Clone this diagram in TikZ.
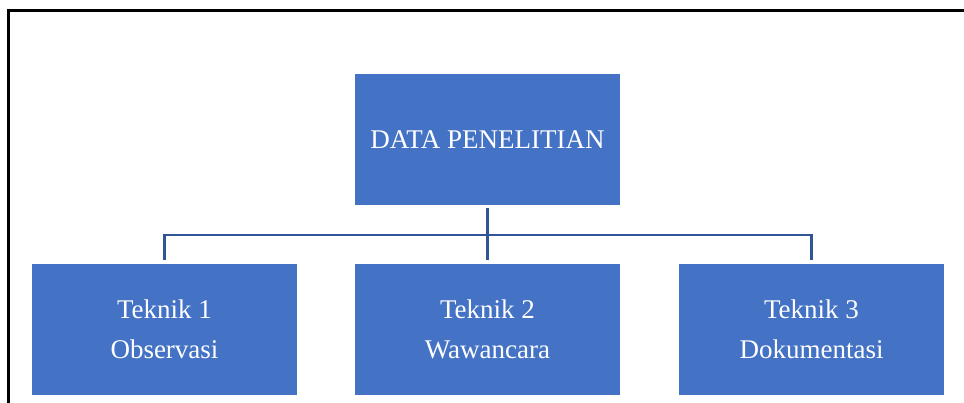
\documentclass[tikz,border=0pt]{standalone}
\usepackage{fontspec}
\setmainfont{Liberation Serif}
\definecolor{boxblue}{HTML}{4472C4}
\definecolor{lineblue}{HTML}{2F5597}
\begin{document}
\begin{tikzpicture}[x=1pt,y=-1pt,
  blk/.style={fill=boxblue, draw=none, minimum width=265pt, minimum height=131pt,
    text=white, align=center, font=\fontsize{27}{40}\selectfont, inner sep=0pt},
  conn/.style={draw=lineblue, line width=2.4pt}]
\useasboundingbox (0,0) rectangle (964,403);
\draw[line width=2.5pt] (8.5,403) -- (8.5,10.5) -- (964,10.5);
\node[blk] (top) at (487.5,139.5) {DATA PENELITIAN};
\node[blk] (t1) at (164.5,329.5) {Teknik 1\\Observasi};
\node[blk] (t2) at (487.5,329.5) {Teknik 2\\Wawancara};
\node[blk] (t3) at (811.5,329.5) {Teknik 3\\Dokumentasi};
\coordinate (bar) at (487.5,235);
\coordinate (barL) at (164.5,235);
\coordinate (barR) at (811.5,235);
\draw[conn] ([yshift=-3pt]top.south) -- (bar);
\draw[conn] ([yshift=4pt]t1.north) -- (barL) -- (barR) -- ([yshift=4pt]t3.north);
\draw[conn] (bar) -- ([yshift=4pt]t2.north);
\end{tikzpicture}
\end{document}
